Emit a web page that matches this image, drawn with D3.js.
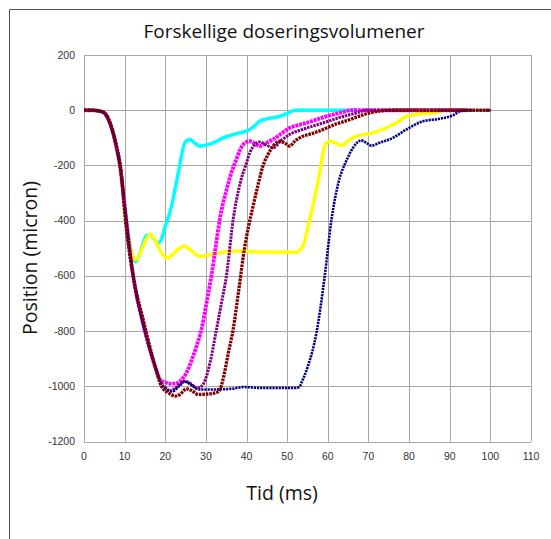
<!DOCTYPE html>
<html>
<head>
<meta charset="utf-8">
<script src="https://cdn.jsdelivr.net/npm/d3@7"></script>
<style>
  body { margin: 0; background: #fff; }
  .tick-label { font-family: "Liberation Sans", Arial, sans-serif; font-size: 10.5px; fill: #333; }
  .title { font-family: "Open Sans", sans-serif; fill: #111; }
</style>
</head>
<body>
<div id="chart"></div>
<script>
// 數據
const xTicks = [0, 10, 20, 30, 40, 50, 60, 70, 80, 90, 100, 110];
const yTicks = [200, 0, -200, -400, -600, -800, -1000, -1200];

const cyanX = [0, 2, 4, 5, 6, 7, 8, 9, 10, 11, 12, 12.7, 13.5, 14.5, 15.3, 16.2, 17.2, 18.3, 19, 20, 21.1, 23.2, 24.2, 24.8, 26, 27.2, 28.5, 30, 31.8, 34, 36.7, 40.8, 42.3, 43.2, 45.5, 48.2, 50.3, 51.8, 67];
const cyanY = [0, 0, -3, -10, -32, -75, -135, -215, -350, -460, -530, -548, -530, -485, -455, -450, -465, -480, -470, -420, -372, -227, -150, -118, -106, -118, -130, -126, -118, -102, -88, -70, -52, -40, -30, -22, -10, 0, 0];

const yellowX = [0, 2, 4, 5, 6, 7, 8, 9, 10, 11, 12, 12.9, 14.3, 16.2, 17.5, 19, 20.3, 21.7, 23, 24.8, 26.5, 28.5, 30.5, 33.4, 37.5, 43.2, 52.3, 53.2, 53.9, 55.5, 57.2, 58.3, 59.2, 60.4, 61.8, 63.3, 65, 67, 71.1, 75.2, 77.5, 79.3, 82, 85.8, 88];
const yellowY = [0, 0, -3, -10, -32, -75, -135, -215, -350, -460, -530, -541, -500, -450, -470, -515, -534, -525, -505, -492, -510, -529, -525, -516, -510, -513, -514, -505, -492, -396, -287, -200, -130, -112, -118, -128, -110, -94, -82, -58, -40, -22, -14, -10, -4];

const magentaX = [0, 2, 4, 5, 6, 7, 8, 9, 10, 11, 12, 13, 14, 15, 16, 17, 18, 19, 20, 21, 23.2, 24, 25.2, 26.5, 27.7, 28.9, 30, 31.4, 32.4, 33.4, 35.1, 36.3, 37.5, 38.5, 39.6, 40.8, 42, 43.2, 44.8, 46.5, 48.5, 50.6, 52.5, 54.7, 57, 59.6, 62.9, 66, 94];
const magentaY = [0, 0, -4, -10, -34, -75, -135, -215, -345, -475, -590, -675, -740, -800, -855, -905, -950, -980, -985, -990, -987, -975, -951, -905, -854, -794, -710, -595, -495, -396, -287, -225, -178, -140, -118, -112, -120, -130, -118, -106, -85, -64, -55, -46, -35, -22, -10, 0, 0];

const purpleX = [0, 2, 4, 5, 6, 7, 8, 9, 10, 11, 12, 13, 14, 15, 16, 17, 18, 19, 20, 21.1, 22.5, 24.8, 26.3, 27.7, 28.5, 29.3, 30.2, 31, 32.6, 33.8, 35.1, 36.7, 38.5, 40, 40.8, 42, 43.2, 44.8, 46.5, 48.5, 50.6, 54.5, 58.8, 63, 67, 69.5, 96];
const purpleY = [0, 0, -4, -10, -34, -75, -135, -215, -345, -475, -590, -675, -740, -800, -855, -905, -950, -990, -1005, -1017, -1005, -981, -990, -1005, -1002, -993, -960, -915, -794, -700, -595, -396, -260, -190, -154, -125, -115, -125, -136, -110, -88, -66, -46, -26, -10, 0, 0];

const navyX = [0, 2, 4, 5, 6, 7, 8, 9, 10, 11, 12, 13, 14, 15, 16, 17, 18, 19, 20, 21.9, 23.3, 24.8, 26.5, 28.1, 31, 36.6, 39.1, 43.2, 52.3, 53.1, 53.5, 55.1, 57.2, 59.2, 60.9, 62.7, 64.5, 66.2, 68.2, 69.5, 70.7, 72.7, 76, 79.3, 83.4, 87.5, 90.7, 93.2, 100];
const navyY = [0, 0, -4, -10, -34, -75, -135, -215, -345, -475, -590, -675, -740, -800, -855, -905, -950, -990, -1005, -1017, -1000, -983, -995, -1011, -1011, -1008, -1002, -1005, -1005, -1000, -987, -927, -806, -605, -396, -257, -185, -136, -109, -118, -128, -118, -100, -70, -40, -31, -19, 0, 0];

const darkredX = [0, 2, 4, 5, 6, 7, 8, 9, 10.2, 12.1, 14.6, 17, 19.1, 21, 22.4, 23.5, 25.2, 26.5, 28.1, 30, 32.6, 33.5, 34.2, 35.5, 36.7, 38, 39.5, 40.5, 41.6, 43, 44, 45.3, 46.5, 48.2, 49.5, 50.6, 52, 53.9, 56, 58.8, 62, 65.4, 68, 70.3, 75.2, 100];
const darkredY = [0, 0, -3, -8, -30, -70, -130, -205, -400, -600, -760, -900, -1000, -1025, -1035, -1030, -1009, -1015, -1029, -1028, -1022, -1010, -975, -880, -794, -660, -500, -420, -348, -260, -203, -160, -130, -112, -120, -130, -110, -94, -85, -70, -50, -34, -20, -10, 0, 0];

const series = [
  { name: "cyan", xs: cyanX, ys: cyanY, color: "#00ffff", width: 3.5, dash: null },
  { name: "yellow", xs: yellowX, ys: yellowY, color: "#ffff00", width: 3.5, dash: null },
  { name: "magenta", xs: magentaX, ys: magentaY, color: "#ff00ff", width: 3.8, dash: "3,0.8" },
  { name: "purple", xs: purpleX, ys: purpleY, color: "#800080", width: 3, dash: "2.4,0.9" },
  { name: "navy", xs: navyX, ys: navyY, color: "#000080", width: 2.6, dash: "2.2,0.9" },
  { name: "darkred", xs: darkredX, ys: darkredY, color: "#800000", width: 3.3, dash: "2.6,0.9" },
];

const W = 551, H = 539;
const plot = { left: 84, right: 531, top: 55, bottom: 441.7 };

const svg = d3
  .select("#chart")
  .append("svg")
  .attr("width", W)
  .attr("height", H);

// 外框
svg
  .append("path")
  .attr("d", `M9.5,${H + 5}V9.5H${W + 5}`)
  .attr("fill", "none")
  .attr("stroke", "#555")
  .attr("stroke-width", 1);

const x = d3.scaleLinear().domain([0, 110]).range([plot.left, plot.right]);
const y = d3.scaleLinear().domain([-1200, 200]).range([plot.bottom, plot.top]);

// 格線
svg
  .append("g")
  .selectAll("line")
  .data(xTicks)
  .join("line")
  .attr("x1", (d) => Math.round(x(d)) + 0.5)
  .attr("x2", (d) => Math.round(x(d)) + 0.5)
  .attr("y1", plot.top)
  .attr("y2", plot.bottom)
  .attr("stroke", "#a6a6a6");

svg
  .append("g")
  .selectAll("line")
  .data(yTicks)
  .join("line")
  .attr("x1", plot.left)
  .attr("x2", plot.right)
  .attr("y1", (d) => Math.round(y(d)) + 0.5)
  .attr("y2", (d) => Math.round(y(d)) + 0.5)
  .attr("stroke", "#a6a6a6");

// 軸標籤
svg
  .append("g")
  .selectAll("text")
  .data(yTicks)
  .join("text")
  .attr("class", "tick-label")
  .attr("x", plot.left - 9)
  .attr("y", (d) => y(d) + 3.5)
  .attr("text-anchor", "end")
  .text((d) => d);

svg
  .append("g")
  .selectAll("text")
  .data(xTicks)
  .join("text")
  .attr("class", "tick-label")
  .attr("x", (d) => x(d))
  .attr("y", plot.bottom + 18)
  .attr("text-anchor", "middle")
  .text((d) => d);

// 曲線
const line = d3
  .line()
  .x((d) => x(d[0]))
  .y((d) => y(d[1]))
  .curve(d3.curveMonotoneX);

svg
  .append("g")
  .selectAll("path")
  .data(series)
  .join("path")
  .attr("d", (s) => line(s.xs.map((v, i) => [v, s.ys[i]])))
  .attr("fill", "none")
  .attr("stroke", (s) => s.color)
  .attr("stroke-width", (s) => s.width)
  .attr("stroke-dasharray", (s) => s.dash)
  .attr("stroke-linejoin", "round");

// 標題
svg
  .append("text")
  .attr("class", "title")
  .attr("x", 284)
  .attr("y", 38)
  .attr("text-anchor", "middle")
  .style("font-size", "19px")
  .text("Forskellige doseringsvolumener");

svg
  .append("text")
  .attr("class", "title")
  .attr("x", 282)
  .attr("y", 500)
  .attr("text-anchor", "middle")
  .style("font-size", "19.5px")
  .text("Tid (ms)");

svg
  .append("text")
  .attr("class", "title")
  .attr("transform", "translate(37,258) rotate(-90)")
  .attr("text-anchor", "middle")
  .style("font-size", "19.5px")
  .text("Position (micron)");
</script>
</body>
</html>
